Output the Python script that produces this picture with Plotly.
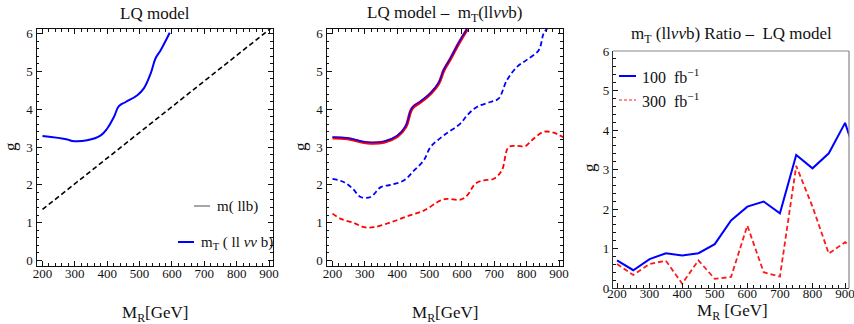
import plotly.graph_objects as go

# ---------------- data ----------------
# Panel 1
p1_mllb_x = [200, 910]
p1_mllb_g = [1.35, 6.17]
p1_mt_x = [200, 277, 292, 338, 380, 400, 421, 436, 457, 493, 513, 534, 549, 565, 593]
p1_mt_g = [3.29, 3.20, 3.16, 3.18, 3.31, 3.49, 3.80, 4.08, 4.19, 4.37, 4.55, 4.94, 5.34, 5.56, 6.02]

# Panel 2
p2_x_solid = [200, 246, 308, 359, 400, 426, 446, 472, 503, 528, 544, 565, 590, 616]
p2_g_solid = [3.24, 3.22, 3.11, 3.13, 3.28, 3.53, 4.02, 4.19, 4.41, 4.68, 5.03, 5.34, 5.74, 6.11]
p2_x_bdash = [200, 236, 262, 287, 318, 349, 380, 421, 452, 482, 503, 544, 595, 616, 646,
              688, 713, 739, 770, 801, 837, 852, 863]
p2_g_bdash = [2.16, 2.07, 1.90, 1.68, 1.68, 1.94, 2.00, 2.12, 2.38, 2.65, 3.00, 3.31, 3.62,
              3.84, 4.06, 4.19, 4.28, 4.77, 5.12, 5.31, 5.56, 6.00, 6.13]
p2_x_rdash = [200, 226, 267, 298, 328, 380, 431, 482, 534, 554, 595, 616, 641, 667, 698,
              723, 744, 770, 795, 816, 852, 883, 901, 914]
p2_g_rdash = [1.24, 1.10, 0.99, 0.88, 0.88, 1.01, 1.17, 1.32, 1.59, 1.63, 1.61, 1.72, 2.03,
              2.12, 2.16, 2.38, 3.00, 3.03, 3.02, 3.18, 3.40, 3.38, 3.31, 3.26]

# Panel 3 (ratio)
p3_x = [200, 250, 300, 350, 400, 450, 500, 550, 600, 650, 700, 750, 800, 850, 900, 950]
p3_100 = [0.70, 0.45, 0.73, 0.88, 0.82, 0.88, 1.11, 1.71, 2.06, 2.19, 1.89, 3.37, 3.03, 3.41, 4.18, 2.95]
p3_300 = [0.61, 0.33, 0.61, 0.69, 0.11, 0.70, 0.23, 0.28, 1.58, 0.40, 0.29, 3.09, 2.06, 0.87, 1.16, 0.90]

x_ticks = [200, 300, 400, 500, 600, 700, 800, 900]
y_ticks = [0, 1, 2, 3, 4, 5, 6]

# ---------------- figure ----------------
W, H = 854, 324
FONT = "Liberation Serif"
BLUE = "#0000ff"
RED = "#ff0000"

def px(x):
    return x / W

def py(y):
    return 1 - y / H

fig = go.Figure()

# panel 1
fig.add_trace(go.Scatter(x=p1_mllb_x, y=p1_mllb_g, mode="lines", xaxis="x", yaxis="y",
                         line=dict(color="black", width=1.6, dash="5px,3px"), showlegend=False))
fig.add_trace(go.Scatter(x=p1_mt_x, y=p1_mt_g, mode="lines", xaxis="x", yaxis="y",
                         line=dict(color=BLUE, width=2, shape="spline", smoothing=1.2), showlegend=False))
# panel 2
fig.add_trace(go.Scatter(x=p2_x_solid, y=p2_g_solid, mode="lines", xaxis="x2", yaxis="y2",
                         line=dict(color=RED, width=3.2, shape="spline", smoothing=1.2), showlegend=False))
fig.add_trace(go.Scatter(x=p2_x_solid, y=[g + 0.02 for g in p2_g_solid], mode="lines", xaxis="x2", yaxis="y2",
                         line=dict(color=BLUE, width=1.4, shape="spline", smoothing=1.2), showlegend=False))
fig.add_trace(go.Scatter(x=p2_x_bdash, y=p2_g_bdash, mode="lines", xaxis="x2", yaxis="y2",
                         line=dict(color=BLUE, width=1.8, dash="5px,3px", shape="spline"), showlegend=False))
fig.add_trace(go.Scatter(x=p2_x_rdash, y=p2_g_rdash, mode="lines", xaxis="x2", yaxis="y2",
                         line=dict(color=RED, width=1.8, dash="5px,3px", shape="spline"), showlegend=False))
# panel 3
fig.add_trace(go.Scatter(x=p3_x, y=p3_100, mode="lines", xaxis="x3", yaxis="y3",
                         line=dict(color=BLUE, width=2), showlegend=False))
fig.add_trace(go.Scatter(x=p3_x, y=p3_300, mode="lines", xaxis="x3", yaxis="y3",
                         line=dict(color="#ff1a1a", width=1.8, dash="5px,3px"), showlegend=False))

tickfont = dict(family=FONT, size=13, color="#111")

def xaxis_common(domain, rng, mirror, standoff=-5):
    return dict(domain=domain, range=rng, tickvals=x_ticks, ticks="inside", ticklen=5, tickwidth=1,
                tickcolor="#111", showline=True, linecolor="#111", linewidth=1.2, mirror=mirror,
                showgrid=False, zeroline=False, tickfont=tickfont, automargin=False,
                ticklabelstandoff=standoff, ticklabeloverflow="allow",
                minor=dict(dtick=20, tick0=0, ticks="inside", ticklen=2.5, tickcolor="#111", showgrid=False))

def yaxis_common(domain, rng, mirror, anchor):
    return dict(domain=domain, range=rng, tickvals=y_ticks, ticks="inside", ticklen=5, tickwidth=1,
                tickcolor="#111", showline=True, linecolor="#111", linewidth=1.2, mirror=mirror,
                showgrid=False, zeroline=False, tickfont=tickfont, anchor=anchor, automargin=False,
                ticklabeloverflow="allow",
                minor=dict(dtick=0.2, tick0=0, ticks="inside", ticklen=2.5, tickcolor="#111", showgrid=False))

dom12_y = [py(266), py(29)]
dom3_y = [py(288), py(51)]

xa1 = xaxis_common([px(36.5), px(273)], [181.5, 912], "allticks"); xa1["anchor"] = "y"
xa2 = xaxis_common([px(326.5), px(563)], [181.5, 912], "allticks"); xa2["anchor"] = "y2"
xa3 = xaxis_common([px(613), px(849)], [187.7, 912], False, standoff=-7); xa3["anchor"] = "y3"
ya1 = yaxis_common(dom12_y, [-0.145, 6.12], "allticks", "x")
ya2 = yaxis_common(dom12_y, [-0.145, 6.12], "allticks", "x2")
ya3 = yaxis_common(dom3_y, [0, 6], False, "x3")
xa3["linecolor"] = "#333"
ya3["linecolor"] = "#333"

fig.update_layout(
    width=W, height=H, margin=dict(l=0, r=0, t=0, b=0, autoexpand=False),
    paper_bgcolor="white", plot_bgcolor="white",
    xaxis=xa1, yaxis=ya1, xaxis2=xa2, yaxis2=ya2, xaxis3=xa3, yaxis3=ya3,
    font=dict(family=FONT, color="#111"),
)

# gray frame (top & right) for panel 3
fig.add_shape(type="line", xref="paper", yref="paper", x0=px(613), x1=px(849), y0=py(51), y1=py(51),
              line=dict(color="#888", width=1.2))
fig.add_shape(type="line", xref="paper", yref="paper", x0=px(849), x1=px(849), y0=py(51), y1=py(288),
              line=dict(color="#888", width=1.2))

ann = []
def text(x, y, s, size=17, xanchor="center", textangle=0):
    ann.append(dict(x=px(x), y=py(y), xref="paper", yref="paper", text=s, showarrow=False,
                    xanchor=xanchor, yanchor="middle", textangle=textangle,
                    font=dict(family=FONT, size=size, color="#111")))

# titles
text(155, 14, "LQ model")
text(445, 14, "LQ model –  m<sub>T</sub>(ll<i>νν</i>b)")
text(731, 35, "m<sub>T</sub> (ll<i>νν</i>b) Ratio –  LQ model", size=17)
# x-axis titles
text(155, 314, "M<sub>R</sub>[GeV]")
text(445, 314, "M<sub>R</sub>[GeV]")
text(732, 312, "M<sub>R</sub> [GeV]")
# y-axis titles
text(10, 147, "g", textangle=-90)
text(300, 147, "g", textangle=-90)
text(589, 168, "g", textangle=-90)

# panel 1 legend
fig.add_shape(type="line", xref="paper", yref="paper", x0=px(194), x1=px(210), y0=py(206), y1=py(206),
              line=dict(color="#888", width=1.5))
text(215, 206, "m( llb)", size=15, xanchor="left")
fig.add_shape(type="line", xref="paper", yref="paper", x0=px(178), x1=px(194), y0=py(242), y1=py(242),
              line=dict(color=BLUE, width=2))
text(199, 243, "m<sub>T</sub> ( ll <i>νν</i> b)", size=15, xanchor="left")

# panel 3 legend
fig.add_shape(type="line", xref="paper", yref="paper", x0=px(619), x1=px(636), y0=py(76), y1=py(76),
              line=dict(color=BLUE, width=2))
text(640, 76, "100  fb<sup>−1</sup>", size=16, xanchor="left")
fig.add_shape(type="line", xref="paper", yref="paper", x0=px(619), x1=px(636), y0=py(100), y1=py(100),
              line=dict(color="#ff1a1a", width=1.2, dash="3px,2px"))
text(640, 100, "300  fb<sup>−1</sup>", size=16, xanchor="left")

fig.update_layout(annotations=ann)
fig.write_html("out.html", config={"displayModeBar": False},
               post_script="document.body.style.margin='0';document.body.style.overflow='hidden';")
